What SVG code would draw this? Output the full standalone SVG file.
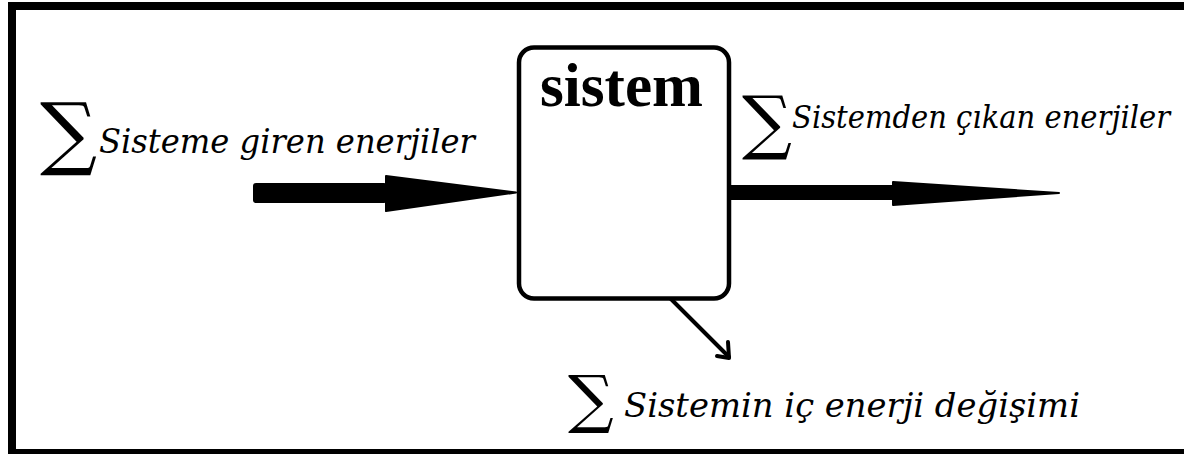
<svg xmlns="http://www.w3.org/2000/svg" width="1184" height="454" viewBox="0 0 1184 454">
<style>
.frame{fill:none;stroke:#000;stroke-width:8}
.box{fill:#fff;stroke:#000;stroke-width:4.5}
.title{font-family:"Liberation Serif",serif;font-weight:bold;font-size:62px;fill:#000}
.lbl{font-family:"DejaVu Serif",serif;font-style:italic;fill:#000}
.sig{font-family:"DejaVu Serif",serif;fill:#000}
.fat{fill:#000;stroke:#000;stroke-width:2;stroke-linejoin:round}
.thin{fill:none;stroke:#000;stroke-width:4;stroke-linecap:round;stroke-linejoin:round}
</style>
<rect width="1184" height="454" fill="#fff"/>
<g id="frame"><rect class="frame" x="12" y="6" width="1200" height="447"/></g>
<g id="connectors">
  <g id="arrow-in">
    <rect x="253" y="183" width="134" height="20" rx="3" fill="#000"/>
    <polygon class="fat" points="386,176 516,192.5 386,211"/>
  </g>
  <g id="arrow-out">
    <rect x="730" y="185" width="164" height="15" fill="#000"/>
    <polygon class="fat" points="893,182 1059,193 893,205"/>
  </g>
  <g id="arrow-ic">
    <line class="thin" x1="670" y1="298" x2="729" y2="357"/>
    <path class="thin" d="M728,342 L729,358 L717,356"/>
  </g>
</g>
<g id="node-sistem">
  <rect class="box" x="519" y="47.5" width="210" height="251" rx="15"/>
  <text class="title" x="540" y="106" textLength="163" lengthAdjust="spacingAndGlyphs">sistem</text>
</g>
<g id="label-in">
  <text class="sig" x="40" y="160" font-size="80">∑</text>
  <text class="lbl" x="99" y="153" font-size="34" textLength="376" lengthAdjust="spacingAndGlyphs">Sisteme giren enerjiler</text>
</g>
<g id="label-out">
  <text class="sig" x="742" y="146" font-size="70">∑</text>
  <text class="lbl" transform="translate(792,128) scale(0.82,1)" x="0" y="0" font-size="31" textLength="461" lengthAdjust="spacingAndGlyphs">Sistemden çıkan enerjiler</text>
</g>
<g id="label-ic">
  <text class="sig" x="568" y="421" font-size="64">∑</text>
  <text class="lbl" x="624" y="417" font-size="34" textLength="456" lengthAdjust="spacingAndGlyphs">Sistemin iç enerji değişimi</text>
</g>
</svg>
